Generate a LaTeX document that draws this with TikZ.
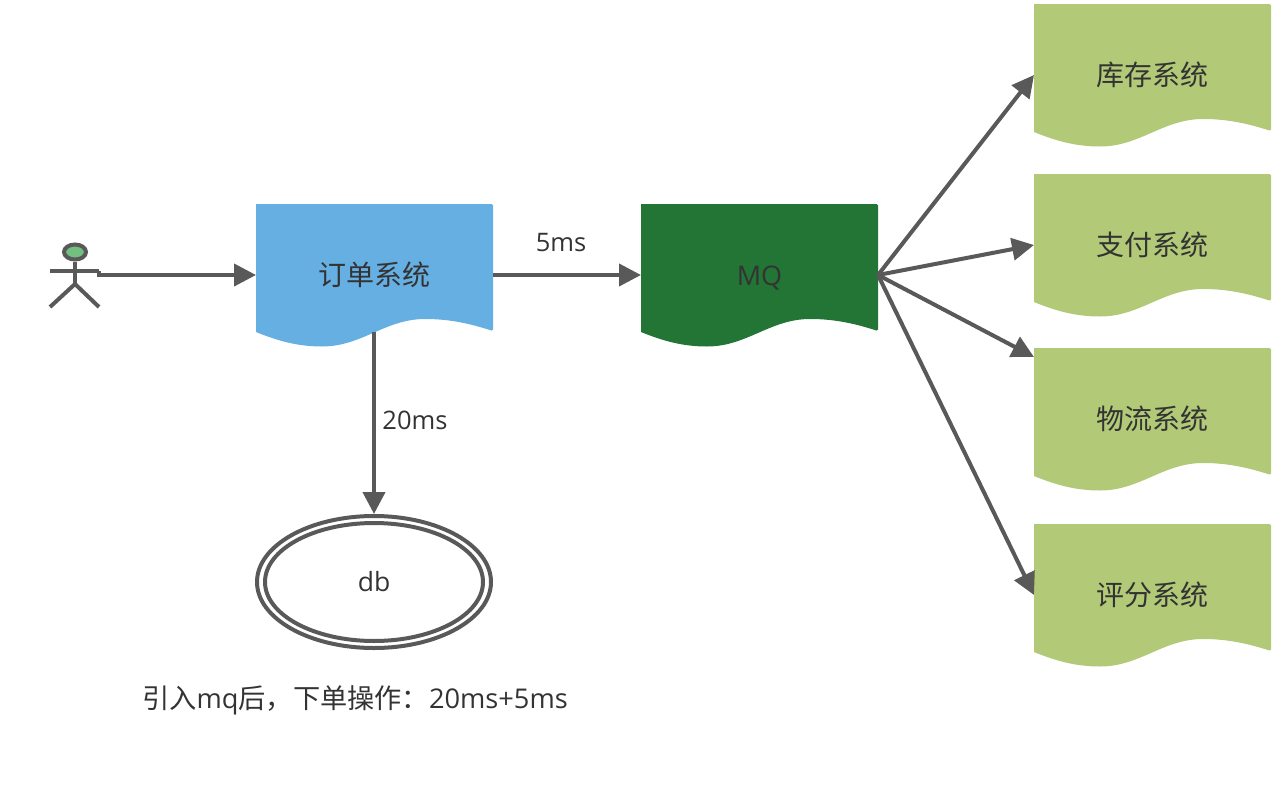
\documentclass[tikz,border=0pt]{standalone}
\usepackage{fontspec}
\setmainfont{Open Sans}
\newfontfamily\cjk{Noto Sans CJK SC}
\usetikzlibrary{arrows.meta,shapes.geometric}
\definecolor{linegray}{HTML}{595959}
\definecolor{txtgray}{HTML}{333333}
\definecolor{docblue}{HTML}{66AFE3}
\definecolor{docdark}{HTML}{227535}
\definecolor{docgreen}{HTML}{B2C977}
\definecolor{headgreen}{HTML}{73BF80}
\tikzset{
  conn/.style={draw=linegray,line width=4pt,-{Triangle[length=22pt,width=22pt]}},
  stick/.style={draw=linegray,line width=4pt},
  doclabel/.style={inner sep=0pt,outer sep=0pt,minimum width=237pt,minimum height=142pt,text=txtgray,font=\fontsize{28}{32}\selectfont\cjk},
  plainlabel/.style={inner sep=0pt,text=txtgray,font=\fontsize{25.5}{30}\selectfont},
  dbring/.style={ellipse,draw=linegray,line width=4pt,inner sep=0pt,outer sep=.5\pgflinewidth}
}
\newcommand{\docbox}[5]{% name, left, top, colour, text
  \fill[#4,rounded corners=1.5pt] (#2,#3) -- (#2+237,#3) -- (#2+237,#3+127) [sharp corners]
    .. controls (#2+215,#3+120) and (#2+195,#3+115) .. (#2+169,#3+115)
    .. controls (#2+129,#3+115) and (#2+106,#3+142.5) .. (#2+66,#3+142.5)
    .. controls (#2+42,#3+142.5) and (#2+22,#3+137) .. (#2,#3+128) -- cycle;
  \node[doclabel] (#1) at (#2+118.5,#3+71) {#5};
}
\begin{document}
\begin{tikzpicture}[x=1pt,y=-1pt]
\useasboundingbox (0,0) rectangle (1278,798);
% documents
\docbox{order}{256}{204}{docblue}{订单系统}
\docbox{mq}{641}{204}{docdark}{\normalfont\fontsize{27}{30}\selectfont\raisebox{-10pt}[0pt][0pt]{MQ}}
\docbox{stock}{1034}{4}{docgreen}{库存系统}
\docbox{pay}{1034}{174}{docgreen}{支付系统}
\docbox{logi}{1034}{348}{docgreen}{物流系统}
\docbox{rate}{1034}{524}{docgreen}{评分系统}
% actor
\node[ellipse,draw=linegray,fill=headgreen,line width=4pt,minimum width=22pt,minimum height=15pt,inner sep=0pt,outer sep=.5\pgflinewidth] (head) at (75,252) {};
\coordinate (hip) at (75,284);
\coordinate (armL) at (50,271);
\coordinate (armR) at (99,271);
\coordinate (legL) at (50,307);
\coordinate (legR) at (99,307);
\draw[stick] (head.south) -- (hip);
\draw[stick] (armL) -- (armR);
\draw[stick] (legL) -- (hip) -- (legR);
% db
\node[dbring,minimum width=234pt,minimum height=132pt] (dbouter) at (374,582) {};
\node[dbring,minimum width=218pt,minimum height=118pt,text=txtgray,font=\fontsize{26.5}{30}\selectfont] (db) at (374,582) {db};
% connectors
\coordinate (orderbottom) at (374,332);
\coordinate (logitip) at (1034,357);
\draw[conn] (armR) -- ++(0,4) -- (order.west);
\draw[conn] (order.east) -- (mq.west);
\draw[conn] (orderbottom) -- (dbouter.north);
\draw[conn] (mq.east) -- (stock.west);
\draw[conn] (mq.east) -- (pay.west);
\draw[conn] (mq.east) -- (logitip);
\draw[conn] (mq.east) -- (rate.west);
% labels
\node[plainlabel] (l5) at (561,242.5) {5ms};
\node[plainlabel] (l20) at (415,420) {20ms};
\node[plainlabel,font=\fontsize{27.2}{30}\selectfont] (cap) at (355,700) {{\cjk 引入}mq{\cjk 后，下单操作：}20ms+5ms};
\end{tikzpicture}
\end{document}
